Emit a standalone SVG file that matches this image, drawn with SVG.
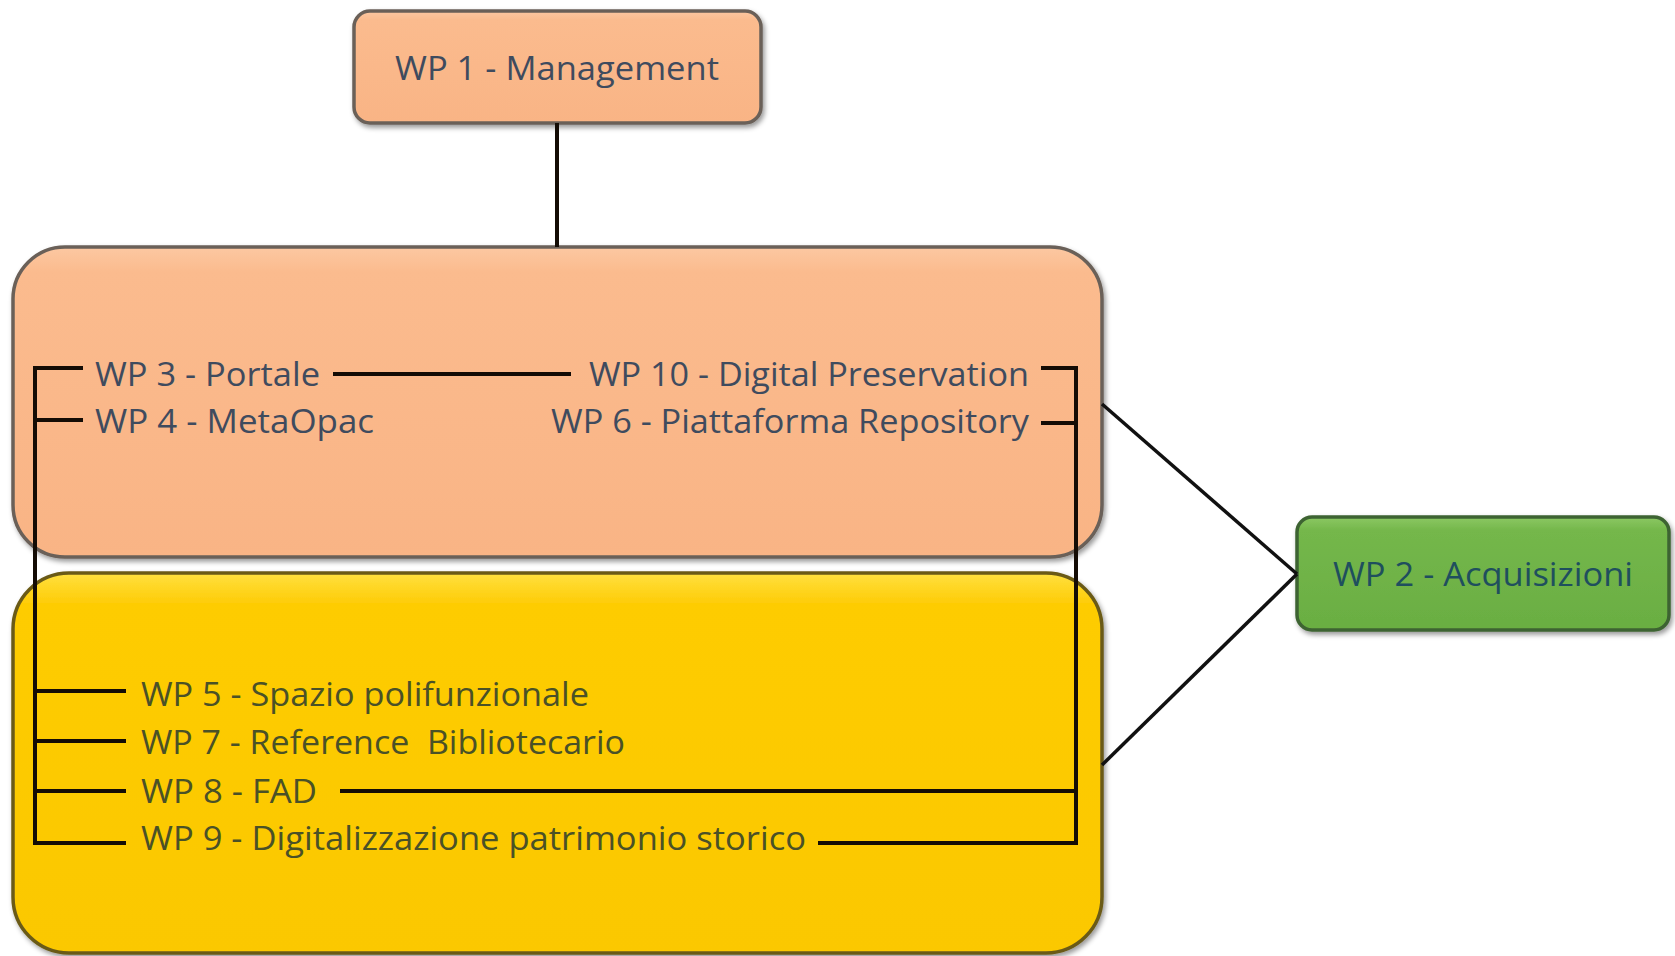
<svg xmlns="http://www.w3.org/2000/svg" width="1675" height="956" viewBox="0 0 1675 956">
  <defs>
    <linearGradient id="gOrange" x1="0" y1="0" x2="0" y2="1">
      <stop offset="0" stop-color="#FCC8A2"/>
      <stop offset="0.08" stop-color="#FBBB8E"/>
      <stop offset="1" stop-color="#F9B485"/>
    </linearGradient>
    <linearGradient id="gYellow" x1="0" y1="0" x2="0" y2="1">
      <stop offset="0" stop-color="#FFE040"/>
      <stop offset="0.08" stop-color="#FECC06"/>
      <stop offset="1" stop-color="#FBC800"/>
    </linearGradient>
    <linearGradient id="gGreen" x1="0" y1="0" x2="0" y2="1">
      <stop offset="0" stop-color="#8CC863"/>
      <stop offset="0.12" stop-color="#74B74B"/>
      <stop offset="1" stop-color="#6AAE42"/>
    </linearGradient>
    <filter id="shadow" x="-5%" y="-5%" width="110%" height="115%">
      <feDropShadow dx="2" dy="3" stdDeviation="2.5" flood-color="#000" flood-opacity="0.4"/>
    </filter>
  </defs>
  <style>
    .box { stroke-width: 3.5; filter: url(#shadow); }
    .orange { fill: url(#gOrange); stroke: #6A6058; }
    .yellow { fill: url(#gYellow); stroke: #6A5A18; }
    .green { fill: url(#gGreen); stroke: #3E6332; }
    .lbl { font-family: "Open Sans", "Liberation Sans", sans-serif; font-size: 33px; }
    .tOrange { fill: #3F4B5E; }
    .tYellow { fill: #4A5127; }
    .tGreen { fill: #1F4F5E; }
    .wire { stroke: #140C05; stroke-width: 4; fill: none; stroke-linecap: butt; }
    .diag { stroke: #111; stroke-width: 3.5; fill: none; }
  </style>

  <rect width="1675" height="956" fill="#FFFFFF"/>

  <!-- WP 1 -->
  <g id="wp1">
    <rect class="box orange" x="354" y="11" width="407" height="112" rx="16"/>
    <text class="lbl tOrange" x="395" y="80" textLength="324" lengthAdjust="spacingAndGlyphs">WP 1 - Management</text>
  </g>

  <!-- Digital services group -->
  <g id="digital">
    <rect class="box orange" x="13" y="247" width="1089" height="310" rx="52"/>
  </g>

  <!-- Library services group -->
  <g id="library">
    <rect class="box yellow" x="13" y="573" width="1089" height="380" rx="56"/>
  </g>

  <!-- WP 2 -->
  <g id="wp2">
    <rect class="box green" x="1297" y="517" width="372" height="113" rx="15"/>
    <text class="lbl tGreen" x="1333" y="586" textLength="300" lengthAdjust="spacingAndGlyphs">WP 2 - Acquisizioni</text>
  </g>

  <!-- connectors -->
  <g id="connectors">
    <line class="wire" x1="557" y1="123" x2="557" y2="247"/>
    <line class="diag" x1="1102" y1="404" x2="1297" y2="574"/>
    <line class="diag" x1="1102" y1="765" x2="1297" y2="574"/>
    <!-- left bracket -->
    <polyline class="wire" points="83,368 35,368 35,843 126,843"/>
    <line class="wire" x1="35" y1="420" x2="83" y2="420"/>
    <line class="wire" x1="35" y1="691" x2="126" y2="691"/>
    <line class="wire" x1="35" y1="741" x2="126" y2="741"/>
    <line class="wire" x1="35" y1="791" x2="126" y2="791"/>
    <!-- right bracket -->
    <polyline class="wire" points="1041,368 1076,368 1076,843 818,843"/>
    <line class="wire" x1="1041" y1="423" x2="1076" y2="423"/>
    <line class="wire" x1="340" y1="791" x2="1076" y2="791"/>
    <!-- WP 3 to WP 10 -->
    <line class="wire" x1="333" y1="374" x2="571" y2="374"/>
  </g>

  <!-- work package labels -->
  <g id="wp3"><text class="lbl tOrange" x="95" y="386" textLength="225" lengthAdjust="spacingAndGlyphs">WP 3 - Portale</text></g>
  <g id="wp4"><text class="lbl tOrange" x="95" y="433" textLength="279" lengthAdjust="spacingAndGlyphs">WP 4 - MetaOpac</text></g>
  <g id="wp10"><text class="lbl tOrange" x="589" y="386" textLength="440" lengthAdjust="spacingAndGlyphs">WP 10 - Digital Preservation</text></g>
  <g id="wp6"><text class="lbl tOrange" x="551" y="433" textLength="478" lengthAdjust="spacingAndGlyphs">WP 6 - Piattaforma Repository</text></g>
  <g id="wp5"><text class="lbl tYellow" x="141" y="706" textLength="448" lengthAdjust="spacingAndGlyphs">WP 5 - Spazio polifunzionale</text></g>
  <g id="wp7"><text class="lbl tYellow" x="141" y="754" textLength="484" lengthAdjust="spacingAndGlyphs" xml:space="preserve">WP 7 - Reference  Bibliotecario</text></g>
  <g id="wp8"><text class="lbl tYellow" x="141" y="803" textLength="176" lengthAdjust="spacingAndGlyphs">WP 8 - FAD</text></g>
  <g id="wp9"><text class="lbl tYellow" x="141" y="850" textLength="665" lengthAdjust="spacingAndGlyphs">WP 9 - Digitalizzazione patrimonio storico</text></g>
</svg>
